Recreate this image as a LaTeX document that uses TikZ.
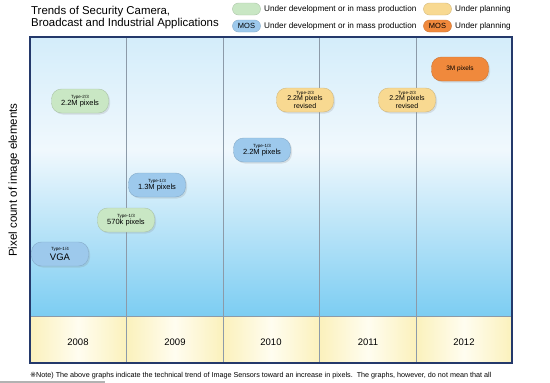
\documentclass[tikz,border=0pt]{standalone}
\usepackage{fontspec}
\setmainfont{Liberation Sans}
\newfontfamily\marksym{DejaVu Sans}
\usetikzlibrary{shadows}
\definecolor{framenavy}{HTML}{24396B}
\definecolor{colgrey}{HTML}{8C9AA8}
\definecolor{skytop}{HTML}{D4EDFA}
\definecolor{skymid}{HTML}{F0F8FD}
\definecolor{skybot}{HTML}{7CCDF2}
\definecolor{creamedge}{HTML}{FBF1BC}
\definecolor{creammid}{HTML}{FFFDF0}
\definecolor{devgreen}{HTML}{C9E7C4}
\definecolor{mosblue}{HTML}{9DC9EC}
\definecolor{planpale}{HTML}{F8D991}
\definecolor{planorange}{HTML}{F0893C}
\newcommand{\typetag}[1]{{\fontsize{4.5}{5}\selectfont #1}\\[-0.5pt]}

\begin{document}
\begin{tikzpicture}[x=1pt,y=-1pt,
  pill/.style={rounded corners=10pt, minimum width=57pt, minimum height=24pt,
    inner sep=0pt, align=center, font=\fontsize{7.5}{8}\selectfont,
    drop shadow={opacity=0.2, shadow xshift=1.5pt, shadow yshift=-1.5pt}},
  greenpill/.style={pill, fill=devgreen, draw=devgreen!85!black},
  bluepill/.style={pill, fill=mosblue, draw=mosblue!85!black},
  palepill/.style={pill, fill=planpale, draw=planpale!85!black},
  orangepill/.style={pill, fill=planorange, draw=planorange!85!black},
  keypill/.style={rounded corners=6pt, minimum width=28pt, minimum height=12pt,
    inner sep=0pt, font=\fontsize{7.5}{8}\selectfont},
  keytext/.style={anchor=west, inner sep=0pt, font=\fontsize{8.2}{9}\selectfont},
  colline/.style={colgrey, line width=0.6pt}]
\useasboundingbox (0,0) rectangle (550,383);

\node[anchor=north west, inner sep=0pt, align=left, font=\fontsize{11.4}{12}\selectfont]
  (title) at (31,6) {Trends of Security Camera,\\Broadcast and Industrial Applications}; %title

\node[keypill, fill=devgreen, draw=devgreen!85!black] (keydev) at (246.5,9) {}; %legend
\node[keytext] (keydevtxt) at (264,9) {Under development or in mass production};
\node[keypill, fill=planpale, draw=planpale!85!black] (keyplan) at (437.5,9) {};
\node[keytext] (keyplantxt) at (455,9) {Under planning};
\node[keypill, fill=mosblue, draw=mosblue!85!black] (keymos) at (246.5,26) {MOS};
\node[keytext] (keymostxt) at (264,26) {Under development or in mass production};
\node[keypill, fill=planorange, draw=planorange!85!black] (keymosplan) at (437.5,26) {MOS};
\node[keytext] (keymosplantxt) at (455,26) {Under planning};

\shade[top color=skytop, bottom color=skymid] (30,37) rectangle (512,150); %chart area
\shade[top color=skymid, bottom color=skybot] (30,150) rectangle (512,316);

\shade[left color=creamedge, right color=creamedge, middle color=creammid] (30,316) rectangle (126.5,363); %year row
\shade[left color=creamedge, right color=creamedge, middle color=creammid] (126.5,316) rectangle (223,363);
\shade[left color=creamedge, right color=creamedge, middle color=creammid] (223,316) rectangle (319.5,363);
\shade[left color=creamedge, right color=creamedge, middle color=creammid] (319.5,316) rectangle (416,363);
\shade[left color=creamedge, right color=creamedge, middle color=creammid] (416,316) rectangle (512,363);

\draw[colline] (126.5,37) -- (126.5,363); %column lines
\draw[colline] (223,37) -- (223,363);
\draw[colline] (319.5,37) -- (319.5,363);
\draw[colline] (416,37) -- (416,363);
\draw[colline] (30,316) -- (512,316);
\draw[framenavy, line width=1.2pt] (30,37) rectangle (512,363);

\node[font=\fontsize{9.5}{10}\selectfont] (y2008) at (78,342) {2008}; %years
\node[font=\fontsize{9.5}{10}\selectfont] (y2009) at (175,342) {2009};
\node[font=\fontsize{9.5}{10}\selectfont] (y2010) at (271,342) {2010};
\node[font=\fontsize{9.5}{10}\selectfont] (y2011) at (368,342) {2011};
\node[font=\fontsize{9.5}{10}\selectfont] (y2012) at (464,342) {2012};

\node[rotate=90, font=\fontsize{11.5}{12}\selectfont] (ylabel) at (14,180) {Pixel count of image elements};

\node[greenpill] (m22green) at (80,101) {\typetag{Type-2/3}2.2M pixels}; %sensors
\node[bluepill, font=\fontsize{9.5}{10}\selectfont] (vga) at (60,254) {\typetag{Type-1/4}VGA};
\node[greenpill] (k570) at (126,220) {\typetag{Type-1/3}570k pixels};
\node[bluepill] (m13) at (157,185) {\typetag{Type-1/3}1.3M pixels};
\node[bluepill] (m22blue) at (262,150) {\typetag{Type-1/3}2.2M pixels};
\node[palepill, font=\fontsize{7}{6.5}\selectfont] (rev2010) at (305,100) {\typetag{Type-2/3}2.2M pixels\\revised};
\node[palepill, font=\fontsize{7}{6.5}\selectfont] (rev2011) at (407,100) {\typetag{Type-2/3}2.2M pixels\\revised};
\node[orangepill, font=\fontsize{6.5}{7}\selectfont] (m3) at (460,69) {3M pixels};

\node[anchor=west, inner sep=0pt, font=\fontsize{7.2}{8}\selectfont] (note) at (30,376)
  {{\marksym ※}Note) The above graphs indicate the technical trend of Image Sensors toward an increase in pixels.\ \ The graphs, however, do not mean that all};
\fill[black!30] (0,381) rectangle (105,383);
\end{tikzpicture}
\end{document}
